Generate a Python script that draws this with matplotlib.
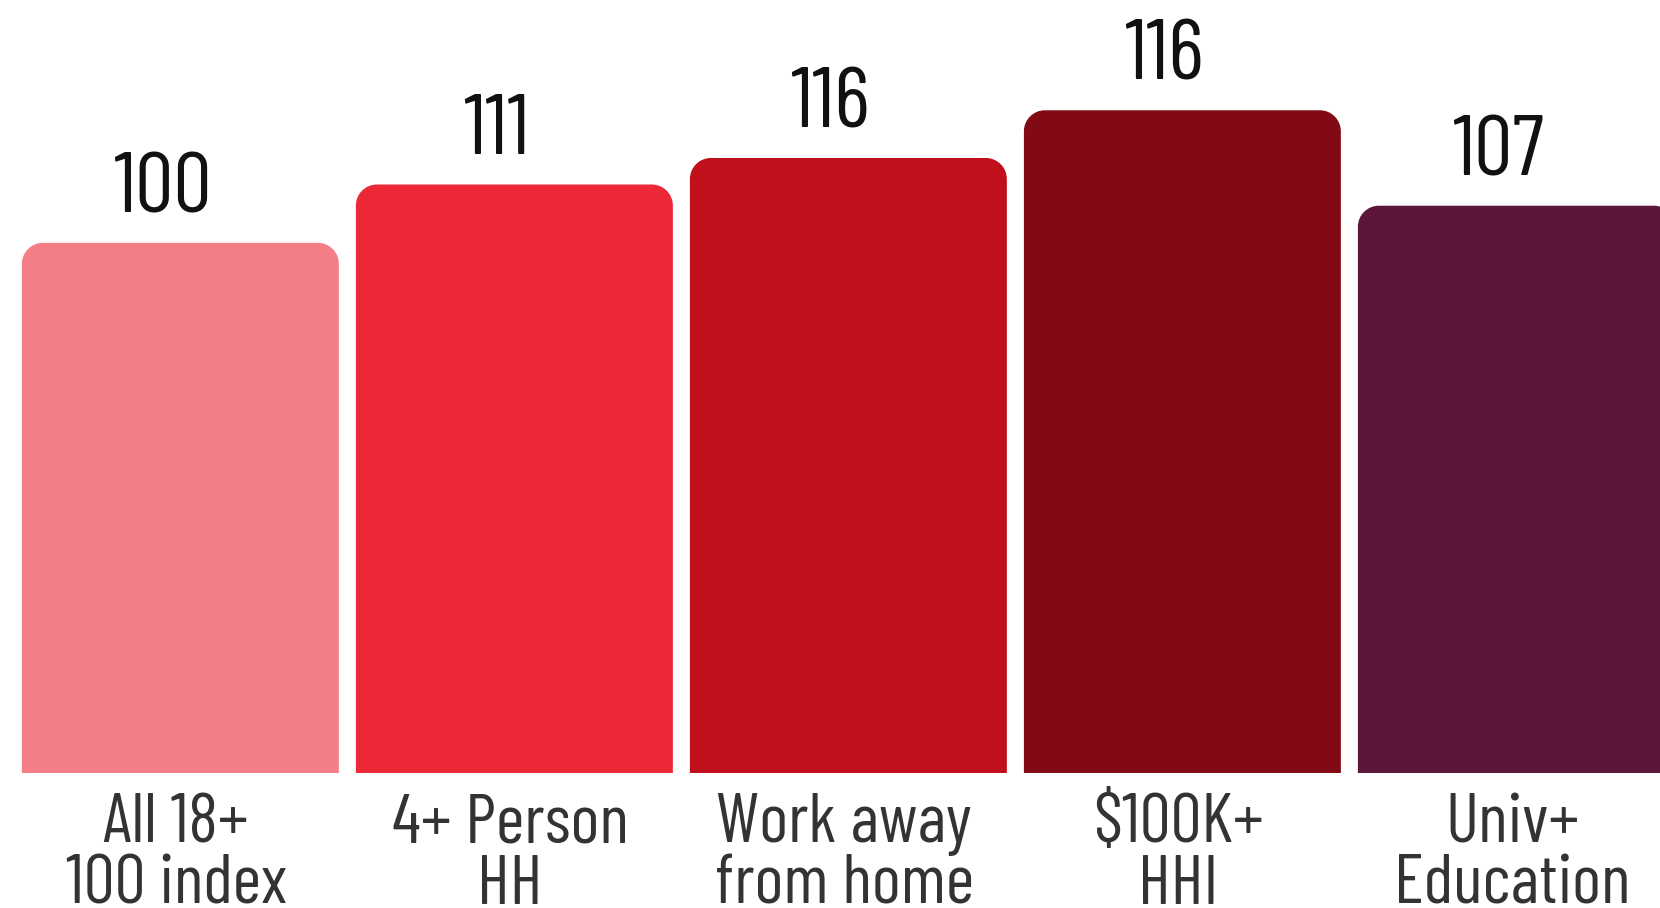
import numpy as np
from matplotlib import pyplot as plt
from matplotlib.path import Path
from matplotlib.patches import PathPatch
from matplotlib import font_manager

categories = ["All 18+\n100 index", "4+ Person\nHH", "Work away\nfrom home", "$100K+\nHHI", "Univ+\nEducation"]
heights = [100, 111, 116, 125, 107]
value_labels = ["100", "111", "116", "116", "107"]
colors = ["#F47E88", "#EC2836", "#C0101C", "#820A14", "#5C163C"]

names = {f.name for f in font_manager.fontManager.ttflist}
font = "DejaVu Sans"
for cand in ["Barlow Condensed", "Roboto Condensed", "Liberation Sans Narrow"]:
    if cand in names:
        font = cand
        break
plt.rcParams["font.family"] = [font, "DejaVu Sans"]


def rounded_bar(ax, x, width, height, r_px, color):
    # top corners rounded, radius given in pixels
    bbox = ax.get_window_extent()
    x0, x1 = ax.get_xlim()
    y0, y1 = ax.get_ylim()
    rx = r_px * (x1 - x0) / bbox.width
    ry = r_px * (y1 - y0) / bbox.height
    left, right = x - width / 2, x + width / 2
    k = 0.5523
    verts = [
        (left, 0), (left, height - ry),
        (left, height - ry + k * ry), (left + rx - k * rx, height), (left + rx, height),
        (right - rx, height),
        (right - rx + k * rx, height), (right, height - ry + k * ry), (right, height - ry),
        (right, 0), (left, 0),
    ]
    codes = [Path.MOVETO, Path.LINETO,
             Path.CURVE4, Path.CURVE4, Path.CURVE4,
             Path.LINETO,
             Path.CURVE4, Path.CURVE4, Path.CURVE4,
             Path.LINETO, Path.CLOSEPOLY]
    ax.add_patch(PathPatch(Path(verts, codes), facecolor=color, edgecolor="none"))


fig = plt.figure(figsize=(16.6, 9.08), dpi=100)
ax = fig.add_axes([0, 0.1487, 1, 0.8513])
ax.set_xlim(-0.540, 4.430)
ax.set_ylim(0, 145.8)
ax.axis("off")

x = np.arange(len(categories))
for i in range(len(categories)):
    rounded_bar(ax, x[i], 0.949, heights[i], 21, colors[i])
    ax.annotate(value_labels[i], (x[i], heights[i]), xytext=(-13, 22),
                textcoords="offset points", ha="center", va="baseline",
                fontsize=62, color="#111111")
    lines = categories[i].split("\n")
    for j, line in enumerate(lines):
        ax.annotate(line, (x[i], 0), xytext=(-3, -50 - 44 * j),
                    textcoords="offset points", ha="center", va="baseline",
                    fontsize=50, color="#333333", annotation_clip=False)

fig.savefig("out.png", dpi=100)
